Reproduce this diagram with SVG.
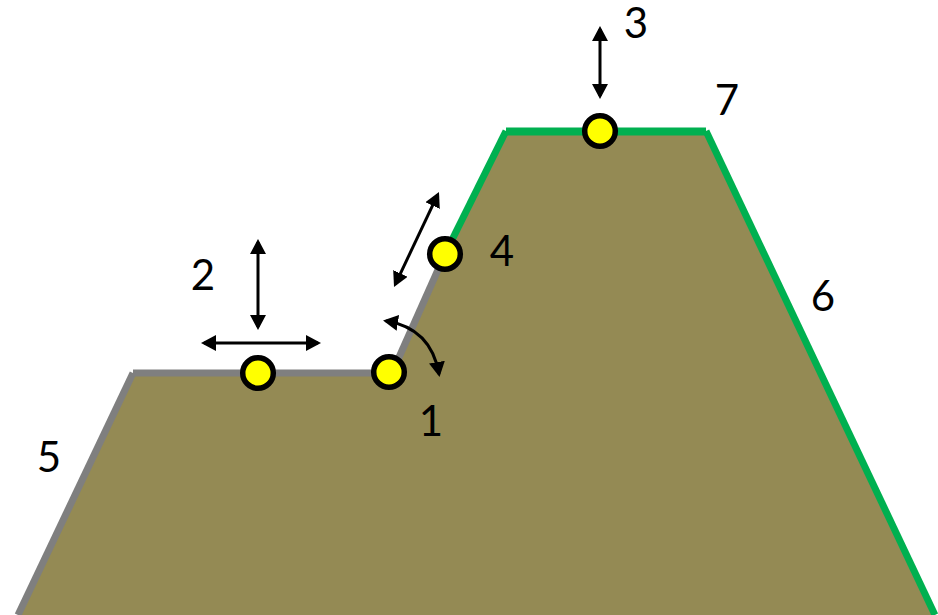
<svg xmlns="http://www.w3.org/2000/svg" width="938" height="615" viewBox="0 0 938 615">
<style>
.t{font-family:"Lato","Liberation Sans",sans-serif;font-size:42px;fill:#000}
.a{fill:none;stroke:#000;stroke-width:3;marker-start:url(#h);marker-end:url(#h)}
.n{fill:#ffff00;stroke:#000;stroke-width:5.5}
.g{fill:none;stroke:#7f7f7f;stroke-width:7}
.e{fill:none;stroke:#00b050;stroke-width:7}
</style>
<defs><marker id="h" markerUnits="userSpaceOnUse" markerWidth="16" markerHeight="16" refX="12" refY="8" orient="auto-start-reverse"><path d="M0 0L15 8L0 16Z" fill="#000"/></marker></defs>
<rect width="938" height="615" fill="#fff"/>
<g id="terrain">
<path d="M18 615L133 373H392L506 131.500H706L935 615Z" fill="#948a54"/>
<path class="g" d="M18 615L133 373"/>
<path class="g" stroke-width="8" d="M133 373H392"/>
<path class="g" d="M392 373L445 254"/>
<path class="e" d="M445 254L506 131"/>
<path class="e" style="stroke-width:8" d="M506 131.500H706"/>
<path class="e" d="M706 131L935 615"/>
</g>
<g id="connectors">
<path class="a" d="M258 242V327"/>
<path class="a" d="M204 343H318"/>
<path class="a" d="M600 29V96"/>
<path class="a" d="M437.700 194.700L395.300 284.300"/>
<path class="a" d="M386 321Q431 328 439 374"/>
</g>
<g id="node-1"><circle class="n" cx="389" cy="372" r="15.300"/></g>
<g id="node-2"><circle class="n" cx="258" cy="373" r="15.300"/></g>
<g id="node-3"><circle class="n" cx="600" cy="131" r="15.300"/></g>
<g id="node-4"><circle class="n" cx="445" cy="254" r="15.300"/></g>
<g id="labels">
<text class="t" x="431" y="436" text-anchor="middle">1</text>
<text class="t" x="203" y="290" text-anchor="middle">2</text>
<text class="t" x="636" y="38" text-anchor="middle">3</text>
<text class="t" x="502" y="266" text-anchor="middle">4</text>
<text class="t" x="49" y="472" text-anchor="middle">5</text>
<text class="t" x="823" y="311" text-anchor="middle">6</text>
<text class="t" x="727" y="115" text-anchor="middle">7</text>
</g>
</svg>
